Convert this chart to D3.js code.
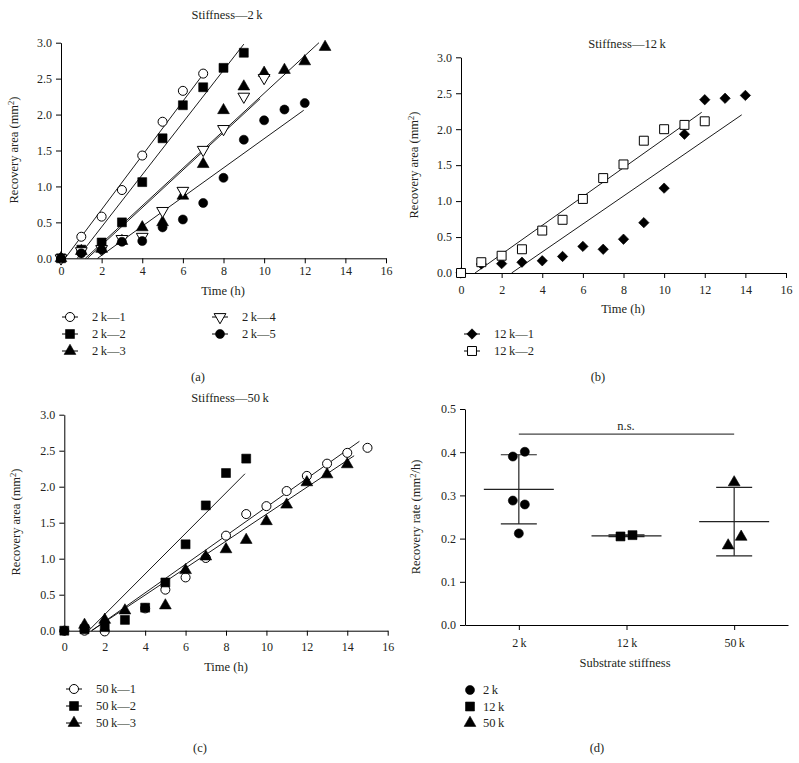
<!DOCTYPE html>
<html><head><meta charset="utf-8">
<script src="https://cdn.jsdelivr.net/npm/d3@7"></script>
<style>
body{margin:0;background:#fff}
svg{display:block}
svg text{font-family:"Liberation Serif","DejaVu Serif",serif !important;fill:#231f20}
</style>
</head><body>
<script>
// ---------- data ----------
const timeTicks = [0,2,4,6,8,10,12,14,16];
const areaTicks = [0,0.5,1,1.5,2,2.5,3];
const rateTicks = [0,0.1,0.2,0.3,0.4,0.5];

// (a) Stiffness 2 k  [time, area]
const s2k1 = [[0,0],[1,0.30],[2,0.58],[3,0.95],[4,1.43],[5,1.90],[6,2.33],[7,2.57]];
const s2k2 = [[0,0],[1,0.12],[2,0.22],[3,0.50],[4,1.06],[5,1.67],[6,2.13],[7,2.38],[8,2.65],[9,2.86]];
const s2k3 = [[0,0],[1,0.10],[2,0.13],[3,0.24],[4,0.43],[5,0.50],[6,0.87],[7,1.31],[8,2.06],[9,2.39],[10,2.58],[11,2.62],[12,2.74],[13,2.94]];
const s2k4 = [[0,0],[1,0.10],[2,0.13],[3,0.27],[4,0.30],[5,0.66],[6,0.94],[7,1.51],[8,1.80],[9,2.25],[10,2.51]];
const s2k5 = [[0,0],[1,0.07],[2,0.12],[3,0.23],[4,0.24],[5,0.43],[6,0.54],[7,0.77],[8,1.12],[9,1.65],[10,1.92],[11,2.07],[12,2.16]];
// fitted lines [t1, v1, t2, v2]
const fit2k = [[0.2,0,7.1,2.6],[0.8,0,9.0,2.98],[1.2,0,12.7,3.0],[1.3,0,9.8,2.22],[1.8,0,11.95,2.06]];
const names2k = ["2\u2009k\u20141","2\u2009k\u20142","2\u2009k\u20143","2\u2009k\u20144","2\u2009k\u20145"];

// (b) Stiffness 12 k
const s12k1 = [[0,0],[1,0.125],[2,0.13],[3,0.15],[4,0.17],[5,0.23],[6,0.37],[7,0.33],[8,0.47],[9,0.70],[10,1.18],[11,1.93],[12,2.41],[13,2.43],[14,2.47]];
const s12k2 = [[0,0],[1,0.15],[2,0.24],[3,0.33],[4,0.59],[5,0.74],[6,1.03],[7,1.32],[8,1.51],[9,1.84],[10,2.00],[11,2.06],[12,2.11]];
const fit12k = [[0.69,0,11.85,2.235],[2.49,0,13.82,2.20]];
const names12k = ["12\u2009k\u20141","12\u2009k\u20142"];

// (c) Stiffness 50 k
const s50k1 = [[0,0],[1,0],[2,-0.01],[4,0.31],[5,0.57],[6,0.74],[7,1.01],[8,1.32],[9,1.62],[10,1.73],[11,1.94],[12,2.15],[13,2.32],[14,2.47],[15,2.54]];
const s50k2 = [[0,0],[1,0.02],[2,0.05],[3,0.15],[4,0.32],[5,0.67],[6,1.20],[7,1.74],[8,2.19],[9,2.39]];
const s50k3 = [[1,0.08],[2,0.15],[3,0.28],[5,0.35],[6,0.84],[7,1.03],[8,1.13],[9,1.26],[10,1.52],[11,1.75],[12,2.06],[13,2.17],[14,2.31]];
const fit50k = [[1.35,0,14.6,2.63],[1.2,0,8.94,2.18],[1.35,0,14.34,2.43]];
const names50k = ["50\u2009k\u20141","50\u2009k\u20142","50\u2009k\u20143"];

// (d) recovery rate
const categories = ["2\u2009k","12\u2009k","50\u2009k"];
const rate2k = [0.390,0.401,0.288,0.279,0.212];
const rate12k = [0.205,0.208];
const rate50k = [0.330,0.184,0.204];
const nsLevel = 0.442;

// ---------- drawing ----------
const FONT = '"Liberation Serif","DejaVu Serif",serif';
const svg = d3.select("body").append("svg").attr("width",799).attr("height",763)
  .style("font-family",FONT);

function symPath(kind){
  switch(kind){
    case "circle": return d3.symbol(d3.symbolCircle,64)();
    case "square": return d3.symbol(d3.symbolSquare,80)();
    case "triangle": return d3.symbol(d3.symbolTriangle,60)();
    case "tridown": return d3.symbol(d3.symbolTriangle,60)();
    case "diamond": return d3.symbol(d3.symbolSquare,54)();
  }
}
function symRot(kind){ return kind==="tridown"?180:(kind==="diamond"?45:0); }
function drawSym(g,kind,open,x,y){
  g.append("path").attr("d",symPath(kind))
   .attr("transform",`translate(${x},${y}) rotate(${symRot(kind)})`)
   .attr("fill",open?"#fff":"#000").attr("stroke","#000").attr("stroke-width",open?1:0.6);
}
function txt(g,x,y,s,anchor){
  return g.append("text").attr("x",x).attr("y",y).attr("text-anchor",anchor||"middle")
    .attr("dominant-baseline","central").attr("font-size",12.5).style("font-family",FONT).text(s);
}
function ylabel(g,x,y,main,sup,tail){
  const t=g.append("text").attr("transform",`translate(${x},${y}) rotate(-90)`)
    .attr("text-anchor","middle").attr("font-size",12.5).style("font-family",FONT);
  t.append("tspan").text(main);
  t.append("tspan").attr("dy",-4.5).attr("font-size",8.5).text(sup);
  t.append("tspan").attr("dy",4.5).text(tail);
}
function styleAxis(g){
  g.attr("font-family",null);
  g.select(".domain").attr("stroke","#000").attr("stroke-width",1);
  g.selectAll(".tick line").attr("stroke","#000");
  g.selectAll(".tick text").attr("font-size",12).style("font-family",FONT).attr("fill","#231f20");
}

function scatterPanel(c){
  const g=svg.append("g");
  const x=d3.scaleLinear().domain([0,16]).range(c.xr);
  const y=d3.scaleLinear().domain([0,3]).range(c.yr);
  const gx=g.append("g").attr("transform",`translate(0,${c.yr[0]})`)
    .call(d3.axisBottom(x).tickValues(timeTicks).tickSize(5).tickSizeOuter(0).tickPadding(c.xpad).tickFormat(d3.format("d")));
  styleAxis(gx);
  const gy=g.append("g").attr("transform",`translate(${c.xr[0]},0)`)
    .call(d3.axisLeft(y).tickValues(areaTicks).tickSize(5).tickSizeOuter(0).tickPadding(4).tickFormat(d3.format(".1f")));
  styleAxis(gy);
  txt(g,c.title[0],c.title[1],c.title[2]);
  txt(g,c.xl[0],c.xl[1],"Time (h)");
  ylabel(g,c.yl[0],c.yl[1],"Recovery area (mm","2",")");
  // fitted lines
  g.selectAll("line.fit").data(c.fits).join("line").attr("class","fit")
    .attr("x1",d=>x(d[0])).attr("y1",d=>y(d[1])).attr("x2",d=>x(d[2])).attr("y2",d=>y(d[3]))
    .attr("stroke","#000").attr("stroke-width",0.9);
  // points
  c.series.forEach(s=>{
    s.data.forEach(p=>drawSym(g,s.kind,s.open,x(p[0]),y(p[1])));
  });
  // legend
  c.series.forEach((s,i)=>{
    const lx=c.leg[i][0], ly=c.leg[i][1];
    g.append("line").attr("x1",lx-8).attr("x2",lx+8).attr("y1",ly).attr("y2",ly).attr("stroke","#000");
    drawSym(g,s.kind,s.open,lx,ly);
    txt(g,lx+22,ly,s.name,"start");
  });
  txt(g,c.cap[0],c.cap[1],c.cap[2]);
}

scatterPanel({
  xr:[61,386], yr:[258.3,42.7], xpad:3,
  title:[227,15,"Stiffness\u20142\u2009k"], xl:[223,291], yl:[18,150],
  fits:fit2k,
  series:[
    {data:s2k1,kind:"circle",open:true,name:names2k[0]},
    {data:s2k2,kind:"square",open:false,name:names2k[1]},
    {data:s2k3,kind:"triangle",open:false,name:names2k[2]},
    {data:s2k4,kind:"tridown",open:true,name:names2k[3]},
    {data:s2k5,kind:"circle",open:false,name:names2k[4]}
  ],
  leg:[[70,317],[70,334],[70,351],[220,317],[220,334]],
  cap:[198,377,"(a)"]
});
scatterPanel({
  xr:[461,786], yr:[273,57.3], xpad:7,
  title:[627,44,"Stiffness\u201412\u2009k"], xl:[623,309], yl:[418,165],
  fits:fit12k,
  series:[
    {data:s12k1,kind:"diamond",open:false,name:names12k[0]},
    {data:s12k2,kind:"square",open:true,name:names12k[1]}
  ],
  leg:[[472,334],[472,351]],
  cap:[598,377,"(b)"]
});
scatterPanel({
  xr:[64.3,387.7], yr:[630.7,414.7], xpad:7,
  title:[230,398,"Stiffness\u201450\u2009k"], xl:[226,667], yl:[20,522],
  fits:fit50k,
  series:[
    {data:s50k1,kind:"circle",open:true,name:names50k[0]},
    {data:s50k2,kind:"square",open:false,name:names50k[1]},
    {data:s50k3,kind:"triangle",open:false,name:names50k[2]}
  ],
  leg:[[74,689],[74,706],[74,723]],
  cap:[200,748,"(c)"]
});

// (d)
(function(){
  const g=svg.append("g");
  const x=d3.scalePoint().domain(categories).range([465,788]).padding(0.5);
  const y=d3.scaleLinear().domain([0,0.5]).range([625,409]);
  const gx=g.append("g").attr("transform","translate(0,625)")
    .call(d3.axisBottom(x).tickSize(5).tickSizeOuter(0).tickPadding(8));
  styleAxis(gx);
  const gy=g.append("g").attr("transform","translate(465,0)")
    .call(d3.axisLeft(y).tickValues(rateTicks).tickSize(5).tickSizeOuter(0).tickPadding(4).tickFormat(d3.format(".1f")));
  styleAxis(gy);
  txt(g,625,663,"Substrate stiffness");
  ylabel(g,420,517,"Recovery rate (mm","2","/h)");
  const groups=[
    {cat:categories[0],vals:rate2k,kind:"circle",off:[-6,6,-6,6,0]},
    {cat:categories[1],vals:rate12k,kind:"square",off:[-6,6]},
    {cat:categories[2],vals:rate50k,kind:"triangle",off:[0,-6,7]}
  ];
  groups.forEach(gr=>{
    const cx=x(gr.cat);
    const m=d3.mean(gr.vals), sd=d3.deviation(gr.vals);
    g.append("line").attr("x1",cx-35).attr("x2",cx+35).attr("y1",y(m)).attr("y2",y(m)).attr("stroke","#222").attr("stroke-width",1.2);
    g.append("line").attr("x1",cx).attr("x2",cx).attr("y1",y(m-sd)).attr("y2",y(m+sd)).attr("stroke","#222").attr("stroke-width",1.2);
    [m-sd,m+sd].forEach(v=>g.append("line").attr("x1",cx-18).attr("x2",cx+18).attr("y1",y(v)).attr("y2",y(v)).attr("stroke","#222").attr("stroke-width",1.2));
    gr.vals.forEach((v,i)=>drawSym(g,gr.kind,false,cx+gr.off[i],y(v)));
  });
  g.append("line").attr("x1",x(categories[0])).attr("x2",x(categories[2]))
    .attr("y1",y(nsLevel)).attr("y2",y(nsLevel)).attr("stroke","#444").attr("stroke-width",1.2);
  txt(g,626,y(nsLevel)-8,"n.s.");
  groups.forEach((gr,i)=>{
    const ly=690+i*16.5;
    drawSym(g,gr.kind,false,470,ly);
    txt(g,483,ly,gr.cat,"start");
  });
  txt(g,597,748,"(d)");
})();
</script>
</body></html>
